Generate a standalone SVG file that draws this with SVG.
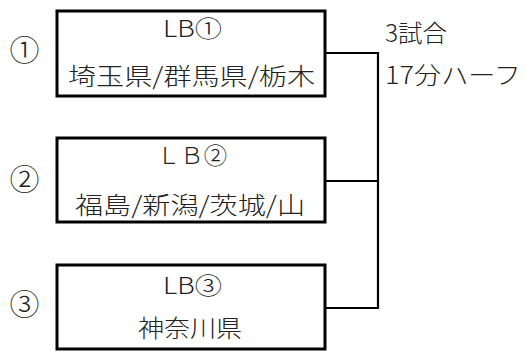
<svg xmlns="http://www.w3.org/2000/svg" width="526" height="351" viewBox="0 0 526 351">
<style>
text{font-family:"Noto Sans CJK JP","Noto Sans",sans-serif;fill:#222;font-size:24px;font-weight:300}
.box{fill:#fff;stroke:#000;stroke-width:3}
.s{font-size:23px}
.n{font-size:30px;text-anchor:middle}
.ln{fill:none;stroke:#000;stroke-width:2.2}
</style>
<rect width="526" height="351" fill="#fff"/>
<g id="connectors">
<path class="ln" d="M325 53H378V308H325M325 181H378"/>
</g>
<g id="node1">
<rect class="box" x="57" y="11" width="268" height="85"/>
<text class="s" x="163" y="37" textLength="59" lengthAdjust="spacingAndGlyphs">LB①</text>
<text x="68" y="85" textLength="247" lengthAdjust="spacingAndGlyphs">埼玉県/群馬県/栃木</text>
</g>
<g id="node2">
<rect class="box" x="57" y="138" width="268" height="84"/>
<text class="s" x="157" y="164" textLength="70" lengthAdjust="spacingAndGlyphs">ＬＢ②</text>
<text x="75" y="214" textLength="230" lengthAdjust="spacingAndGlyphs">福島/新潟/茨城/山</text>
</g>
<g id="node3">
<rect class="box" x="57" y="265" width="268" height="84"/>
<text class="s" x="163" y="294" textLength="59" lengthAdjust="spacingAndGlyphs">LB③</text>
<text x="138" y="337" textLength="104" lengthAdjust="spacingAndGlyphs">神奈川県</text>
</g>
<g id="labels">
<text class="n" x="24.5" y="61">①</text>
<text class="n" x="24.5" y="190">②</text>
<text class="n" x="24.5" y="315">③</text>
<text x="385" y="42" textLength="62" lengthAdjust="spacingAndGlyphs">3試合</text>
<text x="385" y="84" textLength="136" lengthAdjust="spacingAndGlyphs">17分ハーフ</text>
</g>
</svg>
